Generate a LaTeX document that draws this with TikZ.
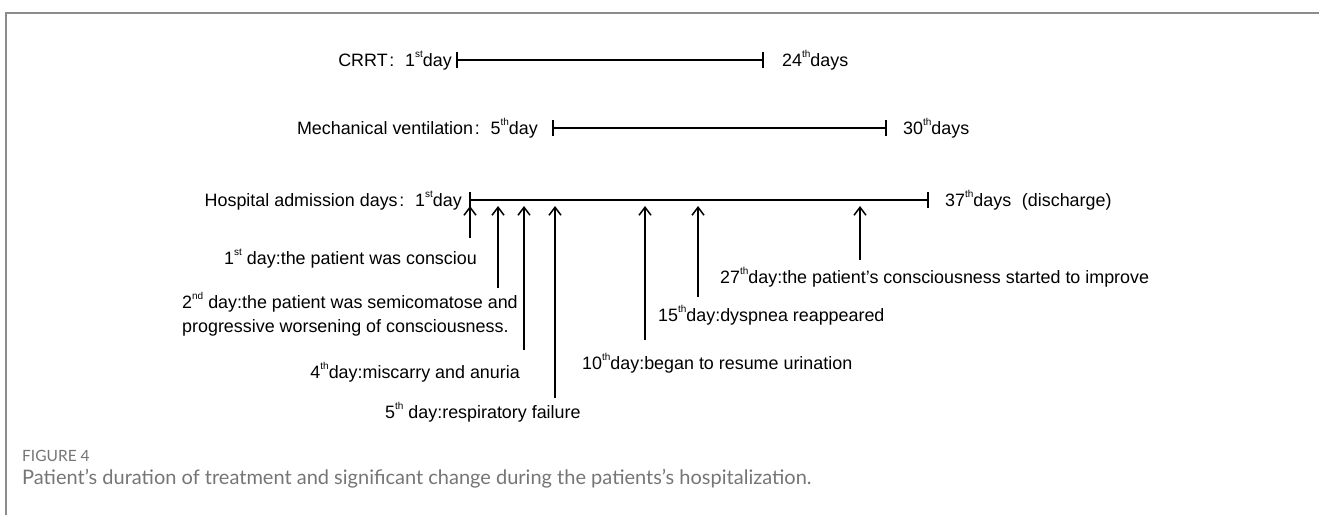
\documentclass[tikz,border=0pt]{standalone}
\usepackage{fontspec}
\setmainfont{Liberation Sans}
\newfontfamily\capfont{Lato}
\usetikzlibrary{arrows.meta}
\definecolor{framegray}{HTML}{8C8C8C}
\definecolor{capgray}{HTML}{757575}
\newcommand{\sups}[1]{\raisebox{0.5em}{\fontsize{10}{10}\selectfont #1}}
\newcommand{\fwcolon}{\hspace{0.1em}:\hspace{0.6em}}
\begin{document}
\begin{tikzpicture}[x=1pt,y=-1pt,
  lab/.style={font=\fontsize{17.9}{21}\selectfont, inner sep=0pt},
  bar/.style={line width=1.8pt},
  up/.style={line width=1.5pt, -{Straight Barb[length=8pt,width=12pt,line width=1.5pt]}},
]
\useasboundingbox (0,0) rectangle (1319,515);
\draw[framegray, line width=2.5pt] (6,515) -- (6,13) -- (1319,13);

% CRRT
\coordinate (c1) at (457,60);
\coordinate (c2) at (763,60);
\draw[bar] (c1) -- (c2);
\draw[bar] ([yshift=8pt]c1) -- ([yshift=-8pt]c1);
\draw[bar] ([yshift=8pt]c2) -- ([yshift=-8pt]c2);
\node[lab, anchor=base east] (crrt) at (452,66) {CRRT\fwcolon 1\sups{st}day};
\node[lab, anchor=base west] (crrtend) at (782,66) {24\sups{th}days};

% Mechanical ventilation
\coordinate (m1) at (553,128);
\coordinate (m2) at (886,128);
\draw[bar] (m1) -- (m2);
\draw[bar] ([yshift=8pt]m1) -- ([yshift=-8pt]m1);
\draw[bar] ([yshift=8pt]m2) -- ([yshift=-8pt]m2);
\node[lab, anchor=base east] (mech) at (538,134) {Mechanical ventilation\fwcolon 5\sups{th}day};
\node[lab, anchor=base west] (mechend) at (903,134) {30\sups{th}days};

% Hospital admission
\coordinate (h1) at (470,200);
\coordinate (h2) at (928,200);
\draw[bar] (h1) -- (h2);
\draw[bar] ([yshift=8pt]h1) -- ([yshift=-8pt]h1);
\draw[bar] ([yshift=8pt]h2) -- ([yshift=-8pt]h2);
\node[lab, anchor=base east] (hosp) at (462,206) {Hospital admission days\fwcolon 1\sups{st}day};
\node[lab, anchor=base west] (hospend) at (945,206) {37\sups{th}days\hspace{0.6em}(discharge)};

% events
\coordinate (a1s) at (470,238); \coordinate (a1e) at (470,206);
\coordinate (a2s) at (498,288); \coordinate (a2e) at (498,206);
\coordinate (a3s) at (524,350); \coordinate (a3e) at (524,206);
\coordinate (a4s) at (555,398); \coordinate (a4e) at (555,206);
\coordinate (a5s) at (645,340); \coordinate (a5e) at (645,206);
\coordinate (a6s) at (698,297); \coordinate (a6e) at (698,206);
\coordinate (a7s) at (860,260); \coordinate (a7e) at (860,206);
\foreach \i in {1,...,7} {\draw[up] (a\i s) -- (a\i e);}

\node[lab, anchor=base east] (l1) at (477,264) {1\sups{st} day:the patient was consciou};
\node[lab, anchor=base west] (l2a) at (182,308) {2\sups{nd} day:the patient was semicomatose and};
\node[lab, anchor=base west] (l2b) at (182,332) {progressive worsening of consciousness.};
\node[lab, anchor=base east] (l3) at (520,378) {4\sups{th}day:miscarry and anuria};
\node[lab, anchor=base west] (l4) at (385,418) {5\sups{th} day:respiratory failure};
\node[lab, anchor=base west] (l5) at (582,369) {10\sups{th}day:began to resume urination};
\node[lab, anchor=base west] (l6) at (658,321) {15\sups{th}day:dyspnea reappeared};
\node[lab, anchor=base west] (l7) at (720,283) {27\sups{th}day:the patient's consciousness started to improve};

% caption
\node[anchor=base west, inner sep=0pt, text=capgray, font=\capfont\fontsize{15.5}{18}\selectfont] (fig) at (22,461) {FIGURE 4};
\node[anchor=base west, inner sep=0pt, text=capgray, font=\capfont\fontsize{20}{24}\selectfont] (cap) at (22,484) {Patient’s duration of treatment and significant change during the patients’s hospitalization.};
\end{tikzpicture}
\end{document}
